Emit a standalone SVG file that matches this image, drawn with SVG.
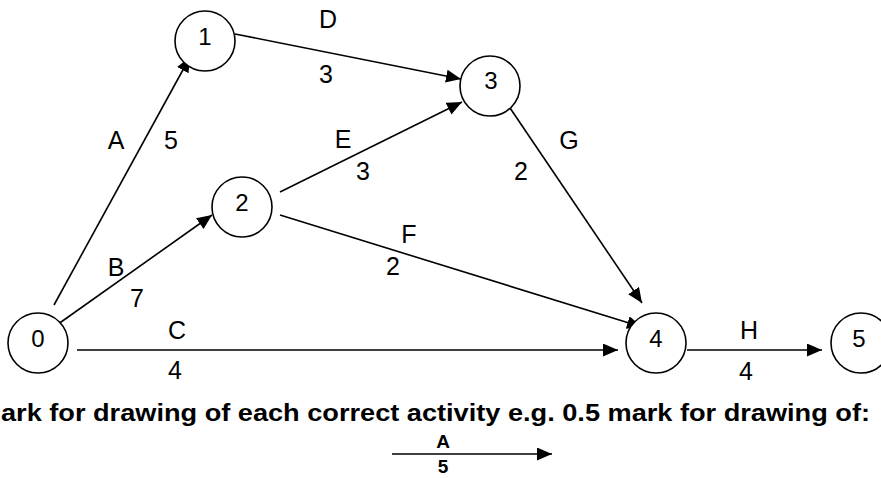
<svg xmlns="http://www.w3.org/2000/svg" width="881" height="478" viewBox="0 0 881 478">
<style>
.node circle{fill:#fff;stroke:#000;stroke-width:1.6}
.nl{font-family:"Liberation Sans",Arial,sans-serif;font-size:24px;text-anchor:middle;fill:#000}
.el{font-family:"Liberation Sans",Arial,sans-serif;font-size:25px;text-anchor:middle;fill:#000}
.edges line{stroke:#000;stroke-width:1.6;marker-end:url(#ah)}
.bold{font-family:"Liberation Sans",Arial,sans-serif;font-weight:bold;fill:#000}
</style>
<defs>
<marker id="ah" markerUnits="userSpaceOnUse" markerWidth="17" markerHeight="14" refX="15" refY="6.5" orient="auto">
<path d="M0,0 L15,6.5 L0,13 z" fill="#000"/>
</marker>
</defs>
<rect width="881" height="478" fill="#fff"/>
<g class="edges" id="connectors">
<line x1="54" y1="305" x2="190" y2="57"/>
<line x1="54" y1="327" x2="212" y2="215"/>
<line x1="77" y1="350" x2="618" y2="350"/>
<line x1="235" y1="34" x2="461" y2="79"/>
<line x1="280" y1="192" x2="462" y2="102"/>
<line x1="280" y1="215" x2="642" y2="327"/>
<line x1="506" y1="102" x2="642" y2="303"/>
<line x1="687" y1="350" x2="822" y2="350"/>
</g>
<g id="n0" class="node"><circle cx="38" cy="343" r="30"/><text class="nl" x="38" y="347">0</text></g>
<g id="n1" class="node"><circle cx="205" cy="41" r="30"/><text class="nl" x="205" y="45">1</text></g>
<g id="n2" class="node"><circle cx="242" cy="207" r="30"/><text class="nl" x="242" y="211">2</text></g>
<g id="n3" class="node"><circle cx="490" cy="86" r="30"/><text class="nl" x="491" y="89">3</text></g>
<g id="n4" class="node"><circle cx="656" cy="343" r="30"/><text class="nl" x="656" y="347">4</text></g>
<g id="n5" class="node"><circle cx="861" cy="343" r="30"/><text class="nl" x="859" y="347">5</text></g>
<g id="labels">
<text class="el" x="116" y="149">A</text><text class="el" x="171" y="149">5</text>
<text class="el" x="116" y="276">B</text><text class="el" x="137" y="307">7</text>
<text class="el" x="177" y="339">C</text><text class="el" x="175" y="379">4</text>
<text class="el" x="328" y="28">D</text><text class="el" x="326" y="83">3</text>
<text class="el" x="343" y="148">E</text><text class="el" x="363" y="180">3</text>
<text class="el" x="409" y="243">F</text><text class="el" x="393" y="275">2</text>
<text class="el" x="569" y="149">G</text><text class="el" x="521" y="180">2</text>
<text class="el" x="749" y="339">H</text><text class="el" x="746" y="380">4</text>
</g>
<text class="bold" x="1" y="421" font-size="23" textLength="869" lengthAdjust="spacingAndGlyphs">ark for drawing of each correct activity e.g. 0.5 mark for drawing of:</text>
<g id="legend">
<line x1="392" y1="454" x2="552" y2="454" stroke="#000" stroke-width="1.6" marker-end="url(#ah)"/>
<text class="bold" x="443" y="448" font-size="19" text-anchor="middle">A</text>
<text class="bold" x="443" y="473" font-size="19" text-anchor="middle">5</text>
</g>
</svg>
